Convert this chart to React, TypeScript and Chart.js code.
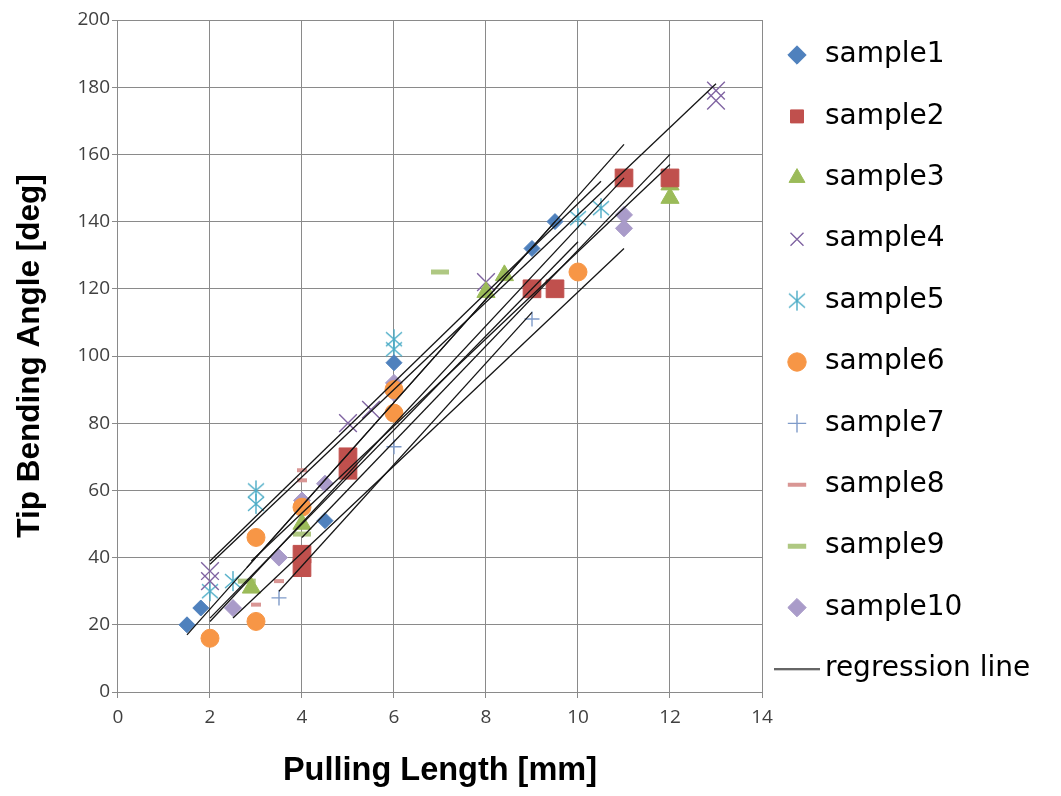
import React, { useEffect, useRef } from 'react';
import { Chart, registerables } from 'chart.js';

Chart.register(...registerables);

// ---- data ----
const seriesNames = ['sample1', 'sample2', 'sample3', 'sample4', 'sample5', 'sample6', 'sample7', 'sample8', 'sample9', 'sample10'];
const regressionName = 'regression line';

const sample1X = [1.5, 1.8, 4.5, 6, 9, 9.5];
const sample1Y = [20, 25, 51, 98, 132, 140];
const sample2X = [4, 4, 5, 5, 9, 9.5, 11, 12];
const sample2Y = [41, 37, 70, 66, 120, 120, 153, 153];
const sample3X = [2.9, 4, 8, 8.4, 12, 12];
const sample3Y = [31, 50, 119, 124, 151, 147];
const sample4X = [2, 2, 5, 5.5, 8, 13, 13];
const sample4Y = [36, 33, 80, 84, 122, 179, 176];
const sample5X = [2, 2.5, 3, 3, 6, 6, 10, 10.5];
const sample5Y = [30, 33, 60, 56, 105, 102, 141, 144];
const sample6X = [2, 3, 3, 4, 6, 6, 10];
const sample6Y = [16, 21, 46, 55, 90, 83, 125];
const sample7X = [3.5, 4, 6, 9];
const sample7Y = [28, 37, 73, 111];
const sample8X = [2, 3, 3.5, 4, 4, 9, 11];
const sample8Y = [17, 26, 33, 66, 63, 120, 153];
const sample9X = [2.8, 4, 7, 11];
const sample9Y = [33, 47, 125, 152];
const sample10X = [2.5, 3.5, 4, 4.5, 6, 6, 11, 11];
const sample10Y = [25, 40, 57, 62, 92, 89, 142, 138];

// regression line end points, one pair per sample
const regressionX = [[1.5, 9.5], [4, 12], [2.9, 12], [2, 13], [2, 10.5], [2, 10], [3.5, 9], [2, 11], [2.8, 11], [2.5, 11]];
const regressionY = [[17, 140], [46, 160], [39, 157], [38, 181], [39, 152], [22, 134], [30, 113], [21, 153], [37, 163], [22, 132]];

const xTickValues = [0, 2, 4, 6, 8, 10, 12, 14];
const yTickValues = [0, 20, 40, 60, 80, 100, 120, 140, 160, 180, 200];

const sampleXs = [sample1X, sample2X, sample3X, sample4X, sample5X, sample6X, sample7X, sample8X, sample9X, sample10X];
const sampleYs = [sample1Y, sample2Y, sample3Y, sample4Y, sample5Y, sample6Y, sample7Y, sample8Y, sample9Y, sample10Y];

// ---- styles ----
const markerStyles: any[] = [
  { color: '#4F81BD', style: 'rectRot', radius: 8, bw: 1 },
  { color: '#C0504D', style: 'rect', radius: 12.5, bw: 1 },
  { color: '#9BBB59', style: 'triangle', radius: 10.5, bw: 1 },
  { color: '#8064A2', style: 'crossRot', radius: 12.5, bw: 1.4 },
  { color: '#4BACC6', style: 'asterisk', radius: 10, bw: 1.4 },
  { color: '#F79646', style: 'circle', radius: 9, bw: 1 },
  { color: '#7F9BC9', style: 'cross', radius: 7.5, bw: 1.4 },
  { color: '#D99694', style: 'line', radius: 5, bw: 4 },
  { color: '#AFC882', style: 'line', radius: 9, bw: 5 },
  { color: '#A99BC9', style: 'rectRot', radius: 8.5, bw: 1 },
];

const FONT_TICK = "'Open Sans', sans-serif";
const FONT_TITLE = "'Liberation Sans', Arial, sans-serif";
const FONT_LEGEND = "'DejaVu Sans', sans-serif";
const LEGEND_SIZE = 28;
const LEGEND_PAD = 21;
const LEGEND_ROW = 40.4;
const PLOT_RIGHT = 762;
const W = 1061;
const H = 796;

export default function App() {
  const ref = useRef<HTMLCanvasElement>(null);

  useEffect(() => {
    const canvas = ref.current;
    if (!canvas) return;

    // legend icon for the regression line
    const lineImg = document.createElement('canvas');
    lineImg.width = 46;
    lineImg.height = 3;
    const lc = lineImg.getContext('2d')!;
    lc.fillStyle = '#000';
    lc.fillRect(0, 0.8, 46, 1.4);

    // asterisk marker (X with a vertical bar)
    const ast = document.createElement('canvas');
    ast.width = 20;
    ast.height = 22;
    const ac = ast.getContext('2d')!;
    ac.strokeStyle = '#4BACC6';
    ac.lineWidth = 1.4;
    ac.beginPath();
    ac.moveTo(2, 4); ac.lineTo(18, 18);
    ac.moveTo(18, 4); ac.lineTo(2, 18);
    ac.moveTo(10, 1); ac.lineTo(10, 21);
    ac.stroke();

    const mctx = document.createElement('canvas').getContext('2d')!;
    mctx.font = `${LEGEND_SIZE}px ${FONT_LEGEND}`;
    const textW = mctx.measureText(regressionName).width;
    const legendWidth = LEGEND_PAD + LEGEND_SIZE + LEGEND_SIZE / 2 + textW + 10;
    const padRight = Math.max(0, W - PLOT_RIGHT - legendWidth);

    const sampleSets = seriesNames.map((name, i) => {
      const st = markerStyles[i];
      return {
        type: 'scatter',
        label: name,
        data: sampleXs[i].map((x, j) => ({ x, y: sampleYs[i][j] })),
        pointStyle: st.style === 'asterisk' ? ast : st.style,
        pointRadius: st.radius,
        pointHoverRadius: st.radius,
        pointBackgroundColor: st.color,
        pointBorderColor: st.color,
        pointBorderWidth: st.bw,
        backgroundColor: st.color,
        borderColor: st.color,
        showLine: false,
        order: 1,
      };
    });

    const regSets = regressionX.map((xs, i) => ({
      type: 'scatter',
      label: i === 0 ? regressionName : `${regressionName} ${i + 1}`,
      data: xs.map((x, j) => ({ x, y: regressionY[i][j] })),
      showLine: true,
      borderColor: '#151515',
      borderWidth: 1.3,
      pointRadius: 0,
      pointHoverRadius: 0,
      pointStyle: 'line',
      pointBorderColor: '#000',
      pointBackgroundColor: '#000',
      pointBorderWidth: 1.4,
      order: 0,
    }));

    const nSamples = seriesNames.length;

    const chart = new Chart(canvas, {
      type: 'scatter',
      data: { datasets: [...sampleSets, ...regSets] as any },
      options: {
        responsive: false,
        animation: false,
        events: [],
        layout: { padding: { top: 20, left: 0, right: padRight, bottom: 0 } },
        plugins: {
          tooltip: { enabled: false },
          legend: {
            position: 'right',
            align: 'start',
            maxWidth: 1000,
            labels: {
              usePointStyle: true,
              boxWidth: LEGEND_SIZE,
              boxHeight: 13,
              padding: LEGEND_PAD,
              color: '#000',
              font: { family: FONT_LEGEND, size: LEGEND_SIZE, lineHeight: LEGEND_ROW / LEGEND_SIZE },
              generateLabels: (ch: any) => {
                const items = (Chart.defaults.plugins.legend.labels as any).generateLabels(ch);
                return items
                  .filter((it: any) => it.datasetIndex <= nSamples)
                  .sort((a: any, b: any) => a.datasetIndex - b.datasetIndex)
                  .map((it: any) => ({
                    ...it,
                    text: [it.text],
                    pointStyle: it.datasetIndex === nSamples ? lineImg : it.pointStyle,
                  }));
              },
            },
          },
        },
        scales: {
          x: {
            type: 'linear',
            min: xTickValues[0],
            max: xTickValues[xTickValues.length - 1],
            afterBuildTicks: (s: any) => { s.ticks = xTickValues.map((v) => ({ value: v })); },
            grid: { color: '#8A8A8A', lineWidth: 1, tickLength: 6, drawTicks: true },
            border: { color: '#8A8A8A', width: 1 },
            ticks: { font: { family: FONT_TICK, size: 19 }, color: '#404040', padding: 8, maxRotation: 0, autoSkip: false },
            title: {
              display: true,
              text: 'Pulling Length [mm]',
              color: '#000',
              font: { family: FONT_TITLE, size: 32.5, weight: 'bold', lineHeight: 1.2 },
              padding: { top: 15.2, bottom: 5 },
            },
          },
          y: {
            type: 'linear',
            min: yTickValues[0],
            max: yTickValues[yTickValues.length - 1],
            afterBuildTicks: (s: any) => { s.ticks = yTickValues.map((v) => ({ value: v })); },
            grid: { color: '#8A8A8A', lineWidth: 1, tickLength: 6, drawTicks: true },
            border: { color: '#8A8A8A', width: 1 },
            ticks: { font: { family: FONT_TICK, size: 19 }, color: '#404040', padding: 2, autoSkip: false },
            title: {
              display: true,
              text: 'Tip Bending Angle [deg]',
              color: '#000',
              font: { family: FONT_TITLE, size: 31.5, weight: 'bold', lineHeight: 1.2 },
              padding: { top: 11, bottom: 26.6 },
            },
          },
        },
      } as any,
    });

    return () => chart.destroy();
  }, []);

  return (
    <div style={{ position: 'absolute', left: 0, top: 0, width: W, height: H, background: '#fff' }}>
      <canvas ref={ref} width={W} height={H} style={{ display: 'block' }} />
    </div>
  );
}
